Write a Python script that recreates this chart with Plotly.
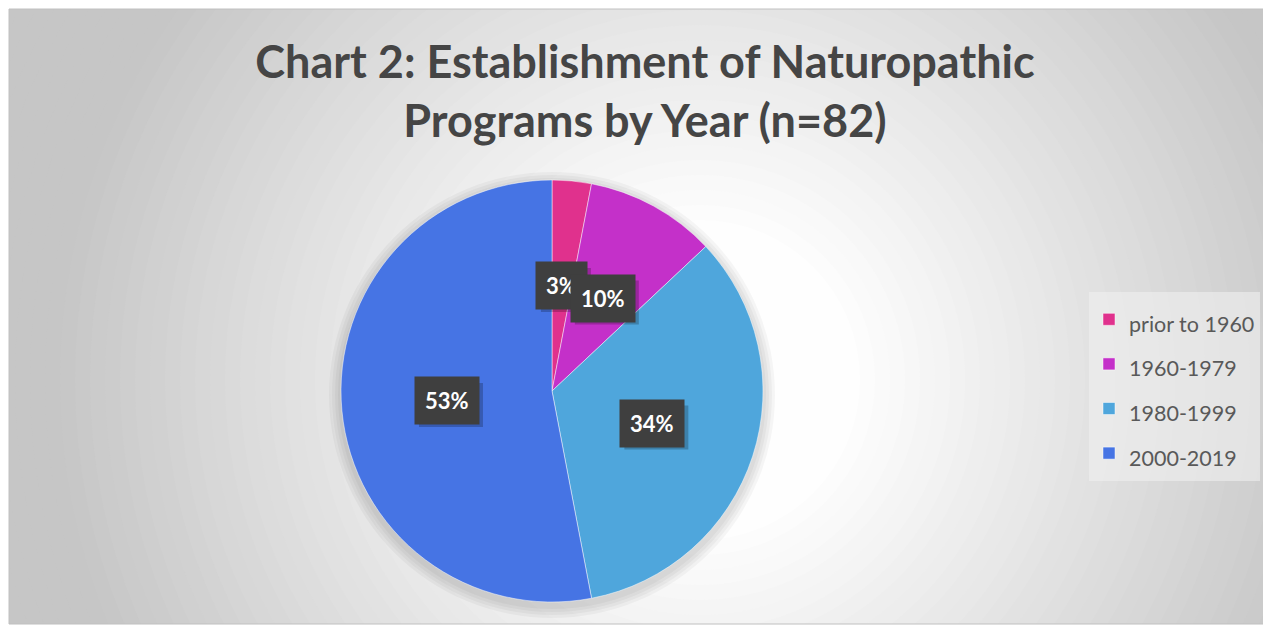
import math
import plotly.graph_objects as go

# the page puts the figure 8px in from the top-left corner
OFF = 8
W, H = 1271 - OFF, 625 - OFF

periods = ["prior to 1960", "1960-1979", "1980-1999", "2000-2019"]
shares = [3, 10, 34, 53]
slice_colors = ["#E0318D", "#C430C9", "#4FA6DC", "#4674E4"]

# pie placement, in screen pixels
CX, CY, R = 552, 391, 211


def fx(x):
    return (x - OFF) / W


def fy(y):
    return 1 - (y - OFF) / H


def circle(cx, cy, r, color, opacity=1.0):
    return dict(type="circle", xref="paper", yref="paper",
                x0=fx(cx - r), x1=fx(cx + r), y0=fy(cy + r), y1=fy(cy - r),
                fillcolor=color, opacity=opacity, line=dict(width=0), layer="below")


fig = go.Figure(go.Pie(
    labels=[f"<span style='font-size:21.5px'>{p}</span>" for p in periods],
    values=shares,
    sort=False,
    direction="clockwise",
    rotation=0,
    marker=dict(colors=slice_colors, line=dict(color="rgba(255,255,255,0.6)", width=0.8)),
    textinfo="none",
    hovertemplate="%{label}: %{percent}<extra></extra>",
    domain=dict(x=[fx(CX - R), fx(CX + R)], y=[fy(CY + R), fy(CY - R)]),
))

# grey panel with a radial highlight (opaque rings, largest first)
shapes = [dict(type="rect", xref="paper", yref="paper", x0=fx(9), x1=fx(1268), y0=fy(624), y1=fy(9),
               fillcolor="#c6c6c6", line=dict(width=0), layer="below")]
GX, GY = 700, 380
for i in range(45):
    r = 820 - i * 15
    v = int(round(255 - 57 * min(max((r - 150) / 500, 0), 1)))
    shapes.append(circle(GX, GY, r, f"rgb({v},{v},{v})"))
# keep the rings inside the panel
for x0, x1, y0, y1 in [(0, 9, 0, 625), (1268, 1280, 0, 625), (0, 1280, 0, 9), (0, 1280, 624, 640)]:
    shapes.append(dict(type="rect", xref="paper", yref="paper", x0=fx(x0), x1=fx(x1), y0=fy(y1), y1=fy(y0),
                       fillcolor="white", line=dict(width=0), layer="below"))
shapes.append(dict(type="rect", xref="paper", yref="paper", x0=fx(9), x1=fx(1268), y0=fy(624), y1=fy(9),
                   fillcolor="rgba(0,0,0,0)", line=dict(color="#c0c0c0", width=1), layer="below"))
# soft shadow under the pie
for d in [12, 9, 6, 3]:
    shapes.append(circle(CX, CY + 4, R + d, "black", 0.035))

# data labels at half radius along each slice's middle angle
total = sum(shares)
cum = 0
for s in shares:
    mid = (cum + s / 2) / total * 2 * math.pi
    cum += s
    lx = CX + 0.5 * R * math.sin(mid)
    ly = CY - 0.5 * R * math.cos(mid)
    label = f"{s}%"
    # drop shadow behind the label box
    bw, bh = 14 * len(label) + 22, 44
    shapes.append(dict(type="rect", xref="paper", yref="paper",
                       x0=fx(lx - bw / 2 + 4), x1=fx(lx + bw / 2 + 4),
                       y0=fy(ly + bh / 2 + 4), y1=fy(ly - bh / 2 + 4),
                       fillcolor="black", opacity=0.22, line=dict(width=0), layer="above"))
    fig.add_annotation(x=fx(lx), y=fy(ly), xref="paper", yref="paper", showarrow=False,
                       xanchor="center", yanchor="middle",
                       text=f"<b>{label}</b>", bgcolor="#3f3f3f", borderpad=10,
                       font=dict(family="Lato", size=22, color="white"))

fig.update_layout(
    width=W, height=H,
    margin=dict(l=0, r=0, t=0, b=0),
    paper_bgcolor="white",
    plot_bgcolor="white",
    shapes=shapes,
    title=dict(text="<b>Chart 2: Establishment of Naturopathic<br>Programs by Year (n=82)</b>",
               x=fx(645), xanchor="center", y=fy(78), yanchor="top",
               font=dict(family="Lato", size=45, color="#454545")),
    legend=dict(x=fx(1089), y=fy(292), xanchor="left", yanchor="top",
                bgcolor="rgba(240,240,240,0.6)", font=dict(family="Lato", size=32, color="#595959")),
    showlegend=True,
)

fig.write_html("out.html")
